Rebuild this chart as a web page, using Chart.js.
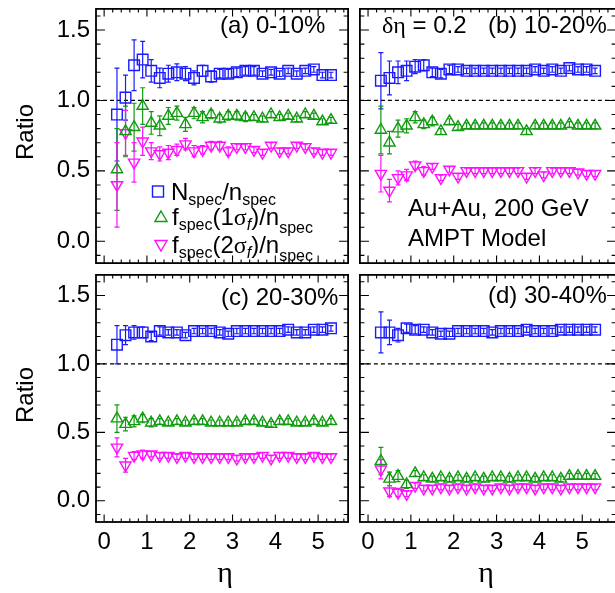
<!DOCTYPE html>
<html>
<head>
<meta charset="utf-8">
<script src="https://cdn.jsdelivr.net/npm/chart.js@4.4.1/dist/chart.umd.min.js"></script>
<style>
  html, body { margin: 0; padding: 0; background: #fff; overflow: hidden; }
  #fig { position: relative; width: 615px; height: 593px; overflow: hidden;
         font-family: "Liberation Sans", Arial, Helvetica, sans-serif; color: #000; }
  .pane { position: absolute; }
  .pane canvas { display: block; }
  .txt { position: absolute; font-size: 24px; line-height: 24px; white-space: nowrap; }
  .gr { font-family: "Liberation Serif", "DejaVu Serif", serif; }
  .txt sub { font-size: 16px; line-height: 0; vertical-align: -5px; }
  .txt sub.lo { vertical-align: -8px; }
  .ytitle { position: absolute; font-size: 24px; line-height: 24px; white-space: nowrap;
            transform: translate(-50%, -50%) rotate(-90deg); }
  .xtitle { position: absolute; font-size: 30px; line-height: 30px; transform: translate(-50%, -50%); }
</style>
</head>
<body>
<div id="fig">
  <div class="pane" style="left:0;top:0"><canvas id="pa" width="357" height="272"></canvas></div>
  <div class="pane" style="left:351px;top:0"><canvas id="pb" width="274" height="272"></canvas></div>
  <div class="pane" style="left:0;top:266px"><canvas id="pc" width="357" height="327"></canvas></div>
  <div class="pane" style="left:351px;top:266px"><canvas id="pd" width="274" height="327"></canvas></div>

  <div class="ytitle" style="left:25px;top:132px">Ratio</div>
  <div class="ytitle" style="left:25px;top:395px">Ratio</div>
  <div class="xtitle gr" style="left:225px;top:572px">η</div>
  <div class="xtitle gr" style="left:486px;top:572px">η</div>

  <div class="txt" style="left:220px;top:13px">(a) 0-10%</div>
  <div class="txt" style="left:382px;top:13px"><span class="gr">δη</span> = 0.2</div>
  <div class="txt" style="left:488px;top:13px">(b) 10-20%</div>
  <div class="txt" style="left:221px;top:285px">(c) 20-30%</div>
  <div class="txt" style="left:488px;top:283px">(d) 30-40%</div>
  <div class="txt" style="left:408px;top:196px">Au+Au, 200 GeV</div>
  <div class="txt" style="left:408px;top:226px">AMPT Model</div>

  <div class="txt" style="left:171px;top:180px">N<sub>spec</sub>/n<sub>spec</sub></div>
  <div class="txt" style="left:172px;top:205px">f<sub>spec</sub>(1<span class="gr">σ</span><sub><i>f</i></sub>)/n<sub class="lo">spec</sub></div>
  <div class="txt" style="left:172px;top:233px">f<sub>spec</sub>(2<span class="gr">σ</span><sub><i>f</i></sub>)/n<sub class="lo">spec</sub></div>
</div>

<script>
// pseudorapidity bin centres (delta-eta = 0.2)
const ETA = [0.3, 0.5, 0.7, 0.9, 1.1, 1.3, 1.5, 1.7, 1.9, 2.1, 2.3, 2.5, 2.7,
             2.9, 3.1, 3.3, 3.5, 3.7, 3.9, 4.1, 4.3, 4.5, 4.7, 4.9, 5.1, 5.3];

const X_TICKS = [0, 1, 2, 3, 4, 5];
const Y_TICKS = [0, 0.5, 1.0, 1.5];
const X_MIN = -0.19, X_MAX = 5.7, X_MAX_RIGHT = 5.79;  // right column is cut by the page edge
const Y_MIN = -0.155, Y_MAX = 1.65;
const REF_LINE = 1.0;

// (a) 0-10%
const A_N      = [0.90, 1.02, 1.25, 1.29, 1.21, 1.16, 1.19, 1.20, 1.19, 1.16, 1.21, 1.17, 1.19,
                  1.19, 1.20, 1.21, 1.21, 1.19, 1.20, 1.19, 1.21, 1.19, 1.21, 1.22, 1.18, 1.18];
const A_N_ERR  = [0.33, 0.16, 0.18, 0.13, 0.08, 0.07, 0.06, 0.06, 0.05, 0.05, 0.04, 0.04, 0.03,
                  0.03, 0.03, 0.03, 0.03, 0.02, 0.02, 0.02, 0.02, 0.02, 0.02, 0.02, 0.02, 0.02];
const A_F1     = [0.51, 0.78, 0.81, 0.96, 0.84, 0.82, 0.89, 0.91, 0.83, 0.91, 0.88, 0.90, 0.87,
                  0.89, 0.89, 0.88, 0.88, 0.87, 0.90, 0.88, 0.89, 0.87, 0.90, 0.89, 0.85, 0.86];
const A_F1_ERR = [0.29, 0.18, 0.17, 0.13, 0.08, 0.07, 0.06, 0.05, 0.05, 0.04, 0.04, 0.03, 0.03,
                  0.03, 0.03, 0.03, 0.02, 0.02, 0.02, 0.02, 0.02, 0.02, 0.02, 0.02, 0.02, 0.02];
const A_F2     = [0.40, 0.77, 0.56, 0.71, 0.64, 0.62, 0.63, 0.65, 0.69, 0.64, 0.65, 0.68, 0.68,
                  0.64, 0.67, 0.67, 0.65, 0.63, 0.68, 0.64, 0.64, 0.68, 0.67, 0.64, 0.63, 0.63];
const A_F2_ERR = [0.30, 0.16, 0.14, 0.10, 0.06, 0.05, 0.05, 0.04, 0.04, 0.04, 0.03, 0.03, 0.03,
                  0.03, 0.02, 0.02, 0.02, 0.02, 0.02, 0.02, 0.02, 0.02, 0.02, 0.02, 0.02, 0.02];

// (b) 10-20%
const B_N      = [1.14, 1.16, 1.20, 1.21, 1.24, 1.25, 1.20, 1.19, 1.22, 1.22, 1.21, 1.21, 1.21,
                  1.21, 1.21, 1.21, 1.21, 1.21, 1.22, 1.21, 1.22, 1.21, 1.23, 1.22, 1.22, 1.21];
const B_N_ERR  = [0.20, 0.12, 0.08, 0.07, 0.05, 0.04, 0.03, 0.03, 0.03, 0.02, 0.02, 0.02, 0.02,
                  0.02, 0.02, 0.02, 0.02, 0.02, 0.02, 0.02, 0.02, 0.02, 0.02, 0.02, 0.02, 0.02];
const B_F1     = [0.79, 0.70, 0.80, 0.82, 0.88, 0.83, 0.85, 0.78, 0.85, 0.81, 0.82, 0.82, 0.82,
                  0.82, 0.82, 0.82, 0.82, 0.78, 0.82, 0.82, 0.82, 0.82, 0.83, 0.82, 0.82, 0.82];
const B_F1_ERR = [0.17, 0.08, 0.06, 0.05, 0.04, 0.03, 0.03, 0.02, 0.02, 0.02, 0.02, 0.02, 0.02,
                  0.02, 0.02, 0.02, 0.02, 0.02, 0.02, 0.02, 0.02, 0.02, 0.02, 0.02, 0.02, 0.02];
const B_F2     = [0.48, 0.36, 0.45, 0.47, 0.54, 0.50, 0.53, 0.45, 0.51, 0.46, 0.50, 0.50, 0.50,
                  0.50, 0.50, 0.50, 0.50, 0.46, 0.50, 0.47, 0.50, 0.50, 0.50, 0.49, 0.48, 0.48];
const B_F2_ERR = [0.13, 0.08, 0.05, 0.04, 0.03, 0.03, 0.02, 0.02, 0.02, 0.02, 0.02, 0.02, 0.02,
                  0.02, 0.02, 0.02, 0.02, 0.02, 0.02, 0.02, 0.02, 0.02, 0.02, 0.02, 0.02, 0.02];

// (c) 20-30%
const C_N      = [1.14, 1.21, 1.23, 1.23, 1.20, 1.24, 1.23, 1.23, 1.21, 1.24, 1.24, 1.24, 1.23,
                  1.22, 1.24, 1.24, 1.24, 1.24, 1.24, 1.24, 1.25, 1.23, 1.23, 1.25, 1.25, 1.26];
const C_N_ERR  = [0.14, 0.07, 0.05, 0.04, 0.03, 0.03, 0.02, 0.02, 0.02, 0.02, 0.02, 0.02, 0.02,
                  0.02, 0.02, 0.02, 0.02, 0.02, 0.02, 0.02, 0.02, 0.02, 0.02, 0.02, 0.02, 0.02];
const C_F1     = [0.60, 0.56, 0.58, 0.60, 0.57, 0.58, 0.57, 0.58, 0.57, 0.58, 0.58, 0.57, 0.57,
                  0.57, 0.57, 0.58, 0.58, 0.57, 0.56, 0.58, 0.58, 0.57, 0.57, 0.58, 0.57, 0.58];
const C_F1_ERR = [0.10, 0.05, 0.04, 0.03, 0.03, 0.02, 0.02, 0.02, 0.02, 0.02, 0.02, 0.02, 0.02,
                  0.02, 0.02, 0.02, 0.02, 0.02, 0.02, 0.02, 0.02, 0.02, 0.02, 0.02, 0.02, 0.02];
const C_F2     = [0.39, 0.26, 0.33, 0.34, 0.34, 0.33, 0.33, 0.32, 0.33, 0.32, 0.32, 0.32, 0.32,
                  0.32, 0.31, 0.32, 0.32, 0.33, 0.31, 0.33, 0.33, 0.32, 0.32, 0.33, 0.32, 0.32];
const C_F2_ERR = [0.07, 0.05, 0.03, 0.03, 0.02, 0.02, 0.02, 0.02, 0.02, 0.02, 0.02, 0.02, 0.02,
                  0.02, 0.02, 0.02, 0.02, 0.02, 0.02, 0.02, 0.02, 0.02, 0.02, 0.02, 0.02, 0.02];

// (d) 30-40%
const D_N      = [1.23, 1.23, 1.21, 1.26, 1.25, 1.25, 1.23, 1.22, 1.22, 1.24, 1.24, 1.24, 1.24,
                  1.23, 1.24, 1.24, 1.24, 1.25, 1.24, 1.24, 1.24, 1.25, 1.25, 1.25, 1.25, 1.25];
const D_N_ERR  = [0.15, 0.09, 0.05, 0.03, 0.03, 0.02, 0.02, 0.02, 0.02, 0.02, 0.02, 0.02, 0.02,
                  0.02, 0.02, 0.02, 0.02, 0.02, 0.02, 0.02, 0.02, 0.02, 0.02, 0.02, 0.02, 0.02];
const D_F1     = [0.29, 0.16, 0.18, 0.12, 0.20, 0.17, 0.16, 0.17, 0.16, 0.17, 0.16, 0.17, 0.16,
                  0.17, 0.17, 0.16, 0.17, 0.17, 0.16, 0.17, 0.17, 0.16, 0.18, 0.18, 0.18, 0.18];
const D_F1_ERR = [0.10, 0.05, 0.04, 0.03, 0.02, 0.02, 0.02, 0.02, 0.02, 0.02, 0.02, 0.02, 0.02,
                  0.02, 0.02, 0.02, 0.02, 0.02, 0.02, 0.02, 0.02, 0.02, 0.02, 0.02, 0.02, 0.02];
const D_F2     = [0.23, 0.07, 0.06, 0.05, 0.11, 0.09, 0.09, 0.10, 0.09, 0.10, 0.09, 0.10, 0.09,
                  0.09, 0.10, 0.09, 0.10, 0.10, 0.09, 0.10, 0.10, 0.09, 0.10, 0.10, 0.10, 0.10];
const D_F2_ERR = [0.07, 0.04, 0.03, 0.02, 0.02, 0.02, 0.02, 0.02, 0.02, 0.02, 0.02, 0.02, 0.02,
                  0.02, 0.02, 0.02, 0.02, 0.02, 0.02, 0.02, 0.02, 0.02, 0.02, 0.02, 0.02, 0.02];

const BLUE = '#1a1aff';
const GREEN = '#109a10';
const MAGENTA = '#ff10ff';
const CAP = 2.5;   // half width of error bar caps

// frame, inward ticks, dashed unity line, error bars and (panel a) legend symbols
const panelDecor = {
    id: 'panelDecor',
    beforeDatasetsDraw(chart) {
        const { ctx, chartArea: a, scales: { x, y } } = chart;
        ctx.save();
        ctx.beginPath();
        ctx.rect(a.left, a.top, a.width, a.height);
        ctx.clip();
        ctx.strokeStyle = '#000';
        ctx.lineWidth = 1.3;
        ctx.setLineDash([4, 3]);
        const y1 = y.getPixelForValue(REF_LINE);
        ctx.beginPath();
        ctx.moveTo(a.left, y1);
        ctx.lineTo(a.right, y1);
        ctx.stroke();
        ctx.setLineDash([]);

        chart.data.datasets.forEach((ds, i) => {
            const meta = chart.getDatasetMeta(i);
            ctx.strokeStyle = ds.borderColor;
            ctx.lineWidth = 1.2;
            ctx.beginPath();
            meta.data.forEach((pt, j) => {
                const v = ds.data[j].y, e = ds.errors[j];
                const top = y.getPixelForValue(v + e), bot = y.getPixelForValue(v - e);
                ctx.moveTo(pt.x, top); ctx.lineTo(pt.x, bot);
                ctx.moveTo(pt.x - CAP, top); ctx.lineTo(pt.x + CAP, top);
                ctx.moveTo(pt.x - CAP, bot); ctx.lineTo(pt.x + CAP, bot);
            });
            ctx.stroke();
        });
        ctx.restore();
    },
    afterDraw(chart, args, opts) {
        const { ctx, chartArea: a, scales: { x, y } } = chart;
        ctx.save();
        ctx.strokeStyle = '#000';
        ctx.lineWidth = 1.1;
        ctx.beginPath();
        for (let k = 0; k <= 28; k++) {          // x ticks every 0.2, major every 1
            const px = x.getPixelForValue(k * 0.2);
            const len = k % 5 === 0 ? 7.5 : 3.5;
            ctx.moveTo(px, a.bottom); ctx.lineTo(px, a.bottom - len);
            ctx.moveTo(px, a.top); ctx.lineTo(px, a.top + len);
        }
        for (let k = -1; k <= 16; k++) {         // y ticks every 0.1, major every 0.5
            const py = y.getPixelForValue(k * 0.1);
            const len = k % 5 === 0 ? 9 : 4.5;
            ctx.moveTo(a.left, py); ctx.lineTo(a.left + len, py);
            ctx.moveTo(a.right, py); ctx.lineTo(a.right - len, py);
        }
        ctx.stroke();
        ctx.lineWidth = 1.8;
        ctx.strokeRect(a.left, a.top, a.width, a.height);

        if (opts.legend) {
            ctx.lineWidth = 1.4;
            ctx.strokeStyle = BLUE;
            ctx.strokeRect(152.5, 186, 11, 11);
            const tri = (cx, cy, r, dir, col) => {
                ctx.strokeStyle = col;
                ctx.beginPath();
                ctx.moveTo(cx, cy - dir * r);
                ctx.lineTo(cx + r * 0.866, cy + dir * r * 0.5);
                ctx.lineTo(cx - r * 0.866, cy + dir * r * 0.5);
                ctx.closePath();
                ctx.stroke();
            };
            tri(161, 218, 7, 1, GREEN);
            tri(161, 244, 7, -1, MAGENTA);
        }
        ctx.restore();
    }
};

function series(vals, errs, style, rot, color, radius) {
    return {
        data: ETA.map((e, i) => ({ x: e, y: vals[i] })),
        errors: errs,
        pointStyle: style,
        rotation: rot,
        pointRadius: radius,
        borderColor: color,
        backgroundColor: 'rgba(0,0,0,0)',
        borderWidth: 1.4,
        showLine: false
    };
}

function makePanel(id, d, opt) {
    new Chart(document.getElementById(id), {
        type: 'scatter',
        data: {
            datasets: [
                series(d.n, d.nErr, 'rect', 0, BLUE, 7.5),
                series(d.f1, d.f1Err, 'triangle', 0, GREEN, 6.5),
                series(d.f2, d.f2Err, 'triangle', 180, MAGENTA, 6.5)
            ]
        },
        options: {
            responsive: false,
            animation: false,
            events: [],
            layout: { padding: opt.pad },
            plugins: {
                legend: { display: false },
                tooltip: { enabled: false },
                panelDecor: { legend: !!opt.legend }
            },
            scales: {
                x: {
                    type: 'linear', min: X_MIN, max: opt.xMax,
                    display: !!opt.xLabels,
                    grid: { display: false, drawTicks: false },
                    border: { display: false },
                    afterBuildTicks: s => { s.ticks = X_TICKS.map(v => ({ value: v })); },
                    afterFit: s => {
                        s.height = opt.xLabels ? opt.xHeight : 0;
                        s.paddingLeft = 0; s.paddingRight = 0;
                    },
                    ticks: {
                        autoSkip: false, maxRotation: 0, padding: 6, color: '#000',
                        font: { family: '"Liberation Sans", Arial, sans-serif', size: 24 },
                        callback: v => String(v)
                    }
                },
                y: {
                    type: 'linear', min: Y_MIN, max: Y_MAX,
                    display: !!opt.yLabels,
                    grid: { display: false, drawTicks: false },
                    border: { display: false },
                    afterBuildTicks: s => { s.ticks = Y_TICKS.map(v => ({ value: v })); },
                    afterFit: s => {
                        s.width = opt.yLabels ? 96 : 0;
                        s.paddingTop = 0; s.paddingBottom = 0;
                    },
                    ticks: {
                        padding: 6, color: '#000',
                        font: { family: '"Liberation Sans", Arial, sans-serif', size: 24 },
                        callback: v => v.toFixed(1)
                    }
                }
            }
        },
        plugins: [panelDecor]
    });
}

makePanel('pa', { n: A_N, nErr: A_N_ERR, f1: A_F1, f1Err: A_F1_ERR, f2: A_F2, f2Err: A_F2_ERR },
          { pad: { top: 3, right: 3, bottom: 3, left: 0 }, xMax: X_MAX, yLabels: true, legend: true });
makePanel('pb', { n: B_N, nErr: B_N_ERR, f1: B_F1, f1Err: B_F1_ERR, f2: B_F2, f2Err: B_F2_ERR },
          { pad: { top: 3, right: 4, bottom: 3, left: 3 }, xMax: X_MAX_RIGHT });
makePanel('pc', { n: C_N, nErr: C_N_ERR, f1: C_F1, f1Err: C_F1_ERR, f2: C_F2, f2Err: C_F2_ERR },
          { pad: { top: 3, right: 3, bottom: 0, left: 0 }, xMax: X_MAX, yLabels: true, xLabels: true, xHeight: 71 });
makePanel('pd', { n: D_N, nErr: D_N_ERR, f1: D_F1, f1Err: D_F1_ERR, f2: D_F2, f2Err: D_F2_ERR },
          { pad: { top: 3, right: 4, bottom: 0, left: 3 }, xMax: X_MAX_RIGHT, xLabels: true, xHeight: 71 });
</script>
</body>
</html>
